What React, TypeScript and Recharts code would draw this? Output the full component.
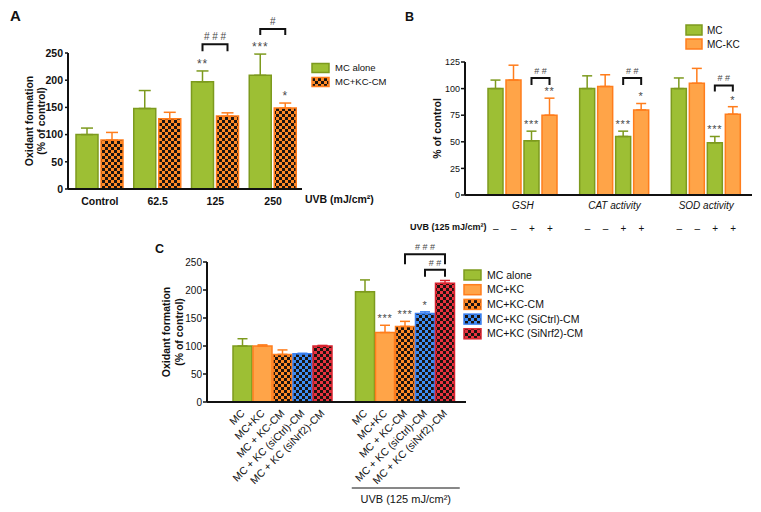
import React from "react";
import { BarChart, Bar, XAxis, YAxis, ErrorBar } from "recharts";

const FONT = "'Liberation Sans', Arial, Helvetica, sans-serif";
const INK = "#111";
const NOTE = "#4a4a4a";
const GREEN = "#9dbf34";
const GREEN_DK = "#7d9a1e";
const ORANGE = "#ffa448";
const ORANGE_DK = "#ff7d1c";
const BLUE_DK = "#3b80f0";
const RED_DK = "#d8232f";
const AXIS = { stroke: INK, strokeWidth: 2 };
const TICK = { stroke: INK, strokeWidth: 1.5 };

// A: oxidant formation vs UVB dose
const doses = ["Control", "62.5", "125", "250"];
const mcAlone = [100, 148, 197, 209];
const mcAloneSd = [12, 33, 20, 39];
const mcKcCm = [90, 129, 134, 149];
const mcKcCmSd = [14, 12, 6, 9];
const ticksA = [0, 50, 100, 150, 200, 250];
const starsAmc = ["", "", "**", "***"];
const starsAcm = ["", "", "", "*"];
const bracketsA = [
  { at: 2, span: 1, top: 266, drop: 7, text: "# # #" },
  { at: 3, span: 1, top: 294, drop: 6, text: "#" },
];

// B: antioxidant markers, % of control
const enzymes = ["GSH", "CAT activity", "SOD activity"];
const bMc = [100, 100, 100];
const bMcSd = [8, 12, 10];
const bKc = [108, 102, 105];
const bKcSd = [14, 11, 14];
const bMcUvb = [51, 55, 49];
const bMcUvbSd = [9, 5, 6];
const bKcUvb = [75, 80, 76];
const bKcUvbSd = [16, 6, 7];
const uvbSigns = ["–", "–", "+", "+"];
const ticksB = [0, 25, 50, 75, 100, 125];
const starsBmc = ["***", "***", "***"];
const starsBkc = ["**", "*", "*"];
const bracketsB = [
  { at: 0, span: 1, top: 110, drop: 7, text: "# #" },
  { at: 1, span: 1, top: 110, drop: 7, text: "# #" },
  { at: 2, span: 1, top: 103, drop: 6, text: "# #" },
];

// C: conditioned media, +/- UVB 125
const conditions = ["none", "UVB"];
const cMc = [100, 197];
const cMcSd = [13, 21];
const cKc = [100, 124];
const cKcSd = [2, 13];
const cKcCm = [85, 135];
const cKcCmSd = [8, 9];
const cSiCtrl = [86, 158];
const cSiCtrlSd = [1, 3];
const cSiNrf2 = [100, 212];
const cSiNrf2Sd = [1, 5];
const cBarNames = ["MC", "MC+KC", "MC + KC-CM", "MC + KC (siCtrl)-CM", "MC + KC (siNrf2)-CM"];
const cKeyNames = ["MC alone", "MC+KC", "MC+KC-CM", "MC+KC (SiCtrl)-CM", "MC+KC (SiNrf2)-CM"];
const ticksC = [0, 50, 100, 150, 200, 250];
const starsCkc = ["", "***"];
const starsCcm = ["", "***"];
const starsCctrl = ["", "*"];
const bracketsC = [
  { at: 1, span: 2, top: 264, drop: 10, text: "# # #" },
  { at: 1, span: 1, top: 236, drop: 7, text: "# #" },
];

const up = (sd: number[], i: number) => [0, sd[i]];

const dataA = doses.map((d, i) => ({
  dose: d,
  mc: mcAlone[i],
  mcErr: up(mcAloneSd, i),
  cm: mcKcCm[i],
  cmErr: up(mcKcCmSd, i),
}));

const dataB = enzymes.map((e, i) => ({
  name: e,
  mc: bMc[i],
  mcErr: up(bMcSd, i),
  kc: bKc[i],
  kcErr: up(bKcSd, i),
  mcUvb: bMcUvb[i],
  mcUvbErr: up(bMcUvbSd, i),
  kcUvb: bKcUvb[i],
  kcUvbErr: up(bKcUvbSd, i),
}));

const dataC = conditions.map((c, i) => ({
  name: c,
  mc: cMc[i],
  mcErr: up(cMcSd, i),
  kc: cKc[i],
  kcErr: up(cKcSd, i),
  cm: cKcCm[i],
  cmErr: up(cKcCmSd, i),
  ctrl: cSiCtrl[i],
  ctrlErr: up(cSiCtrlSd, i),
  nrf: cSiNrf2[i],
  nrfErr: up(cSiNrf2Sd, i),
}));

const STEP_A = 22 + 3;
const STEP_B = 15 + 3;
const STEP_C = 19 + 1;

type Br = { at: number; span: number; top: number; drop: number; text: string };

// stars above the error bar, and brackets ending on this bar (scaled from the bar itself)
const noteLabel =
  (sd: number[], stars: string[], brs: Br[], step: number, fs: number) => (p: any) => {
    const vb = p.viewBox || {};
    const x = p.x ?? vb.x;
    const y = p.y ?? vb.y;
    const w = p.width ?? vb.width;
    const h = p.height ?? vb.height;
    const i = p.index;
    const v = Number(p.value);
    if (!h || !v || i == null) return null;
    const ppu = h / v;
    const base = y + h;
    const cx = x + w / 2;
    const errY = base - (v + sd[i]) * ppu;
    return (
      <g fontFamily={FONT}>
        {stars[i] ? (
          <text x={cx} y={errY - 3} textAnchor="middle" fontSize={fs} fill={NOTE} letterSpacing={0.8}>
            {stars[i]}
          </text>
        ) : null}
        {brs
          .filter((b) => b.at === i)
          .map((b, k) => {
            const ty = base - b.top * ppu;
            const lx = cx - b.span * step;
            return (
              <g key={k}>
                <path
                  d={`M${lx},${ty + b.drop}V${ty}H${cx}V${ty + b.drop}`}
                  fill="none"
                  stroke={INK}
                  strokeWidth={2}
                />
                <text x={(lx + cx) / 2} y={ty - 4} textAnchor="middle" fontSize={fs - 2} fill={NOTE}>
                  {b.text}
                </text>
              </g>
            );
          })}
      </g>
    );
  };

const yLabel2 = (dx1: number, dx2: number) => (p: any) => {
  const vb = p.viewBox;
  const cy = vb.y + vb.height / 2;
  const x1 = vb.x + dx1;
  const x2 = vb.x + dx2;
  return (
    <g fontFamily={FONT} fontSize={10.5} fontWeight={700} fill={INK} textAnchor="middle">
      <text x={x1} y={cy} transform={`rotate(-90 ${x1} ${cy})`}>Oxidant formation</text>
      <text x={x2} y={cy} transform={`rotate(-90 ${x2} ${cy})`}>(% of control)</text>
    </g>
  );
};

const yLabelB = (p: any) => {
  const vb = p.viewBox;
  const cy = vb.y + vb.height / 2;
  const x = vb.x + 36;
  return (
    <text x={x} y={cy} transform={`rotate(-90 ${x} ${cy})`} textAnchor="middle" fontFamily={FONT} fontSize={10.5} fontWeight={700} fill={INK}>
      % of control
    </text>
  );
};

const TickA = (p: any) => (
  <text x={p.x} y={p.y + 14} textAnchor="middle" fontFamily={FONT} fontSize={10.5} fontWeight={700} fill={INK}>
    {p.payload.value}
  </text>
);

const TickB = (p: any) => (
  <g fontFamily={FONT} fill={INK}>
    <text x={p.x} y={p.y + 12} textAnchor="middle" fontSize={10} fontStyle="italic">
      {p.payload.value}
    </text>
    {uvbSigns.map((s, i) => (
      <text key={i} x={p.x + (i - 1.5) * STEP_B} y={p.y + 35} textAnchor="middle" fontSize={10}>
        {s}
      </text>
    ))}
  </g>
);

const TickC = (p: any) => (
  <g fontFamily={FONT} fill={INK}>
    {cBarNames.map((t, i) => {
      const bx = p.x + (i - 2) * STEP_C + 3;
      const by = p.y + 10;
      return (
        <text key={i} x={bx} y={by} transform={`rotate(-45 ${bx} ${by})`} textAnchor="end" fontSize={10.5}>
          {t}
        </text>
      );
    })}
    {p.index === 1 ? (
      <g>
        <line x1={p.x - 53} x2={p.x + 55} y1={p.y + 84} y2={p.y + 84} stroke={INK} strokeWidth={1} />
        <text x={p.x + 1} y={p.y + 99} textAnchor="middle" fontSize={11}>
          UVB (125 mJ/cm²)
        </text>
      </g>
    ) : null}
  </g>
);

const keyA = [
  { name: "MC alone", fill: GREEN, stroke: GREEN_DK },
  { name: "MC+KC-CM", fill: "url(#chkOrange)", stroke: ORANGE_DK },
];
const keyB = [
  { name: "MC", fill: GREEN, stroke: GREEN_DK },
  { name: "MC-KC", fill: ORANGE, stroke: ORANGE_DK },
];
const cStyles = [
  { fill: GREEN, stroke: GREEN_DK },
  { fill: ORANGE, stroke: ORANGE_DK },
  { fill: "url(#chkOrange)", stroke: ORANGE_DK },
  { fill: "url(#chkBlue)", stroke: BLUE_DK },
  { fill: "url(#chkRed)", stroke: RED_DK },
];
const keyC = cKeyNames.map((n, i) => ({ name: n, ...cStyles[i] }));

const Key = ({ items, x, y, step, w, h, gap, fs }: any) => (
  <g fontFamily={FONT} fontSize={fs}>
    {items.map((it: any, i: number) => {
      const cy = y + i * step;
      return (
        <g key={i}>
          <rect x={x} y={cy - h / 2} width={w} height={h} fill={it.fill} stroke={it.stroke} strokeWidth={1.5} />
          <text x={x + w + gap} y={cy + fs * 0.35} fill={INK}>
            {it.name}
          </text>
        </g>
      );
    })}
  </g>
);

const Checker = ({ id, color }: { id: string; color: string }) => (
  <pattern id={id} width="6" height="6" patternUnits="userSpaceOnUse">
    <rect width="6" height="6" fill={color} />
    <rect width="3" height="3" fill="#1c1410" />
    <rect x="3" y="3" width="3" height="3" fill="#1c1410" />
  </pattern>
);

const PanelA = () => (
  <div style={{ position: "absolute", left: 0, top: 0 }}>
    <BarChart width={380} height={230} data={dataA} margin={{ top: 53, right: 78, bottom: 11, left: 6 }} barSize={22} barGap={3}>
      <XAxis dataKey="dose" height={30} tickSize={0} interval={0} padding={{ left: 3, right: 0 }} axisLine={AXIS} tick={TickA} />
      <YAxis
        width={62}
        domain={[0, 250]}
        ticks={ticksA}
        interval={0}
        tickSize={3}
        tickMargin={2}
        axisLine={AXIS}
        tickLine={TICK}
        tick={{ fontSize: 10.5, fontWeight: 700, fill: INK, fontFamily: FONT }}
        label={yLabel2(27, 39)}
      />
      <Bar dataKey="mc" fill={GREEN} stroke={GREEN_DK} strokeWidth={1.5} isAnimationActive={false} label={noteLabel(mcAloneSd, starsAmc, [], STEP_A, 12)}>
        <ErrorBar dataKey="mcErr" width={6} stroke={GREEN_DK} strokeWidth={1.5} />
      </Bar>
      <Bar dataKey="cm" fill="url(#chkOrange)" stroke={ORANGE_DK} strokeWidth={1.5} isAnimationActive={false} label={noteLabel(mcKcCmSd, starsAcm, bracketsA, STEP_A, 12)}>
        <ErrorBar dataKey="cmErr" width={6} stroke={ORANGE_DK} strokeWidth={1.5} />
      </Bar>
    </BarChart>
  </div>
);

const PanelB = () => (
  <div style={{ position: "absolute", left: 380, top: 0 }}>
    <BarChart width={381} height={260} data={dataB} margin={{ top: 62, right: 9, bottom: 15, left: 25 }} barSize={15} barGap={3}>
      <XAxis dataKey="name" height={50} tickSize={0} interval={0} padding={{ left: 12, right: 0 }} axisLine={AXIS} tick={TickB} />
      <YAxis
        width={60}
        domain={[0, 125]}
        ticks={ticksB}
        interval={0}
        tickSize={4}
        tickMargin={1}
        axisLine={AXIS}
        tickLine={TICK}
        tick={{ fontSize: 9, fill: INK, fontFamily: FONT }}
        label={yLabelB}
      />
      <Bar dataKey="mc" fill={GREEN} stroke={GREEN_DK} strokeWidth={1.5} isAnimationActive={false}>
        <ErrorBar dataKey="mcErr" width={5} stroke={GREEN_DK} strokeWidth={1.5} />
      </Bar>
      <Bar dataKey="kc" fill={ORANGE} stroke={ORANGE_DK} strokeWidth={1.5} isAnimationActive={false}>
        <ErrorBar dataKey="kcErr" width={5} stroke={ORANGE_DK} strokeWidth={1.5} />
      </Bar>
      <Bar dataKey="mcUvb" fill={GREEN} stroke={GREEN_DK} strokeWidth={1.5} isAnimationActive={false} label={noteLabel(bMcUvbSd, starsBmc, [], STEP_B, 11)}>
        <ErrorBar dataKey="mcUvbErr" width={5} stroke={GREEN_DK} strokeWidth={1.5} />
      </Bar>
      <Bar dataKey="kcUvb" fill={ORANGE} stroke={ORANGE_DK} strokeWidth={1.5} isAnimationActive={false} label={noteLabel(bKcUvbSd, starsBkc, bracketsB, STEP_B, 11)}>
        <ErrorBar dataKey="kcUvbErr" width={5} stroke={ORANGE_DK} strokeWidth={1.5} />
      </Bar>
    </BarChart>
  </div>
);

const cKeys = ["mc", "kc", "cm", "ctrl", "nrf"];
const cSds = [cMcSd, cKcSd, cKcCmSd, cSiCtrlSd, cSiNrf2Sd];
const cStars = [["", ""], starsCkc, starsCcm, starsCctrl, ["", ""]];

const PanelC = () => (
  <div style={{ position: "absolute", left: 140, top: 240 }}>
    <BarChart width={340} height={272} data={dataC} margin={{ top: 22, right: 14, bottom: 10, left: 5 }} barSize={19} barGap={1}>
      <XAxis dataKey="name" height={100} tickSize={0} interval={0} padding={{ left: 14, right: 0 }} axisLine={AXIS} tick={TickC} />
      <YAxis
        width={62}
        domain={[0, 250]}
        ticks={ticksC}
        interval={0}
        tickSize={4}
        tickMargin={1}
        axisLine={AXIS}
        tickLine={TICK}
        tick={{ fontSize: 10, fill: INK, fontFamily: FONT }}
        label={yLabel2(25, 38)}
      />
      {cKeys.map((k, i) => (
        <Bar
          key={k}
          dataKey={k}
          fill={cStyles[i].fill}
          stroke={cStyles[i].stroke}
          strokeWidth={1.5}
          isAnimationActive={false}
          label={noteLabel(cSds[i], cStars[i], i === 4 ? bracketsC : [], STEP_C, 11)}
        >
          <ErrorBar dataKey={k + "Err"} width={5} stroke={cStyles[i].stroke} strokeWidth={1.5} />
        </Bar>
      ))}
    </BarChart>
  </div>
);

export default function App() {
  return (
    <div style={{ position: "absolute", left: 0, top: 0, width: 761, height: 512, background: "#fff", overflow: "hidden" }}>
      <PanelA />
      <PanelB />
      <PanelC />
      <svg width={761} height={512} style={{ position: "absolute", left: 0, top: 0, pointerEvents: "none" }}>
        <defs>
          <Checker id="chkOrange" color="#ff8a26" />
          <Checker id="chkBlue" color="#3d8ef5" />
          <Checker id="chkRed" color="#e8323f" />
        </defs>
        <g fontFamily={FONT} fontWeight={700} fill={INK}>
          <text x={10} y={21} fontSize={15}>A</text>
          <text x={405} y={21} fontSize={12.5}>B</text>
          <text x={155} y={253} fontSize={12.5}>C</text>
          <text x={305} y={203} fontSize={10.5}>UVB (mJ/cm²)</text>
          <text x={410} y={229.5} fontSize={9}>UVB (125 mJ/cm²)</text>
        </g>
        <Key items={keyA} x={312} y={68} step={14} w={17} h={9} gap={6} fs={9.5} />
        <Key items={keyB} x={686} y={30} step={14} w={16} h={10} gap={5} fs={10} />
        <Key items={keyC} x={464} y={275} step={14.7} w={17} h={10} gap={6} fs={10.5} />
      </svg>
    </div>
  );
}
